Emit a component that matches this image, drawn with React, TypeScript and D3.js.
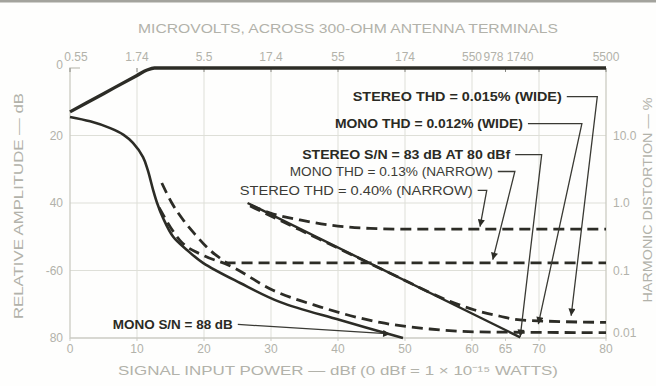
import { useEffect, useRef } from "react"
import * as d3 from "d3"

// Axe du bas : puissance d'entrée (dBf)
const dbfTicks = [0, 10, 20, 30, 40, 50, 60, 65, 70, 80]
// Axe du haut : microvolts aux bornes 300 ohms, aux mêmes points dBf
const uvTicks = [0, 10, 20, 30, 40, 50, 60, 65, 70, 80]
const uvLabels = ["0.55", "1.74", "5.5", "17.4", "55", "174", "550", "978", "1740", "5500"]
// Axe gauche : amplitude relative (dB)
const ampTicks = [0, 20, 40, 60, 80]
const ampLabels = ["0", "20", "40", "-60", "80"]
// Axe droit : distorsion harmonique (%), échelle log
const thdTicks = [10, 1, 0.1, 0.01]
const thdLabels = ["10.0", "1.0", "0.1", "0.01"]

type Pt = [number, number]

// [dBf, dB]
const signal: Pt[] = [[0, 13], [5, 7.6], [10, 2.2], [11.5, 0.6], [12.6, 0], [80, 0]]
const monoNoise: Pt[] = [
  [0, 14.5], [3, 15.8], [6, 17.8], [8, 19.8], [9.4, 22.2], [10.9, 26.4], [11.6, 30.2],
  [12.4, 36.1], [13, 40], [13.9, 44.5], [15.4, 50], [17.5, 54], [19.9, 57.8],
  [25.4, 63.7], [31.3, 69.3], [40.3, 74.7], [49.7, 80],
]
const stereoNoise: Pt[] = [[26.5, 40], [67.2, 79.8]]

// [dBf, THD %]
const monoThdNarrow: Pt[] = [
  [13.7, 1.98], [15.2, 1.0], [16.9, 0.56], [18.7, 0.34], [20.4, 0.223], [22.1, 0.16],
  [23.6, 0.13], [80, 0.13],
]
const stereoThdNarrow: Pt[] = [
  [26.9, 0.93], [29.9, 0.71], [34.3, 0.56], [38.8, 0.47], [44.8, 0.42], [50, 0.41], [80, 0.41],
]
const monoThdWide: Pt[] = [
  [13.3, 0.85], [16.4, 0.28], [20.1, 0.164], [23.6, 0.121], [30.3, 0.051], [37.3, 0.029],
  [46.3, 0.017], [53.7, 0.0136], [61.2, 0.0123], [80, 0.012],
]
const stereoThdWide: Pt[] = [
  [26.9, 0.9], [34.3, 0.4], [41.8, 0.176], [49.3, 0.077], [56.7, 0.035], [60.4, 0.026],
  [64.2, 0.021], [67.2, 0.0185], [80, 0.017],
]

// Annotations : fin du texte / ligne de base (dBf, dB), coude (dBf), pointe (dBf, dB)
const notes = [
  { text: "STEREO THD = 0.015% (WIDE)", end: 73.4, base: 9.8, len: 209, bold: true, elbow: 78.7, tip: [74.8, 73.4] },
  { text: "MONO THD = 0.012% (WIDE)", end: 67.6, base: 17.8, len: 188, bold: true, elbow: 76.4, tip: [69.9, 75.9] },
  { text: "STEREO S/N = 83 dB AT 80 dBf", end: 65.7, base: 27, len: 208, bold: true, elbow: 70.4, tip: [67.2, 79.6] },
  { text: "MONO THD = 0.13% (NARROW)", end: 63.1, base: 32, len: 203, bold: false, elbow: 66.4, tip: [63.1, 56.8] },
  { text: "STEREO THD = 0.40% (NARROW)", end: 60.1, base: 37.6, len: 233, bold: false, elbow: 62.2, tip: [61.2, 47] },
  { text: "MONO S/N = 88 dB", end: 24.3, base: 77.3, len: 120, bold: true, elbow: null, tip: [47.8, 78.8] },
]

const INK = "#2c2c26"
const AXIS = "#b2b2aa"
const GRID = "#dedfd8"
const FONT = "'Liberation Sans', Arial, sans-serif"

export default function App() {
  const svgRef = useRef<SVGSVGElement>(null)

  useEffect(() => {
    if (!svgRef.current) return
    const svg = d3.select(svgRef.current)
    svg.selectAll("*").remove()

    const xScale = d3.scaleLinear().domain([0, 80]).range([70, 606])
    const yScale = d3.scaleLinear().domain([0, 80]).range([68, 338])
    const thdScale = d3.scaleLog().domain([0.01, 100]).range([338, 68])

    svg.append("rect").attr("width", 656).attr("height", 386).attr("fill", "#fefefd")
    // bord du scan en haut
    svg.append("rect").attr("x", 0).attr("y", 0).attr("width", 656).attr("height", 2.5).attr("fill", "#a3a39d")

    const defs = svg.append("defs")
    defs.append("marker")
      .attr("id", "arrow")
      .attr("viewBox", "0 0 10 10")
      .attr("refX", 10)
      .attr("refY", 5)
      .attr("markerWidth", 6.5)
      .attr("markerHeight", 5.5)
      .attr("markerUnits", "strokeWidth")
      .attr("orient", "auto")
      .append("path")
      .attr("d", "M0,0 L10,5 L0,10 Z")
      .attr("fill", INK)

    // Grille
    const grid = svg.append("g").attr("stroke", GRID).attr("stroke-width", 1)
    ;[10, 20, 30, 40, 50, 60, 70].forEach((v) => {
      grid.append("line").attr("x1", xScale(v)).attr("x2", xScale(v)).attr("y1", yScale(0)).attr("y2", yScale(80))
    })
    ;[20, 40, 60].forEach((v) => {
      grid.append("line").attr("x1", xScale(0)).attr("x2", xScale(80)).attr("y1", yScale(v)).attr("y2", yScale(v))
    })

    // Cadre
    const frame = svg.append("g").attr("stroke", "#cbcbc3").attr("stroke-width", 1.3).attr("fill", "none")
    frame.append("path").attr("d", `M${xScale(0) + 10},${yScale(0)} H${xScale(0)} V${yScale(80)} H${xScale(80)} V${yScale(0)}`)

    // Axe du bas
    const bottom = svg.append("g").attr("font-family", FONT).attr("font-size", 12).attr("fill", AXIS).attr("text-anchor", "middle")
    dbfTicks.forEach((v) => {
      bottom.append("line").attr("x1", xScale(v)).attr("x2", xScale(v)).attr("y1", yScale(80)).attr("y2", yScale(80) + 3).attr("stroke", "#cbcbc3")
      bottom.append("text").attr("x", xScale(v)).attr("y", 353).text(String(v))
    })

    // Axe du haut
    const nudge: Record<number, number> = { 0: 6, 65: -12, 70: -19 }
    const top = svg.append("g").attr("font-family", FONT).attr("font-size", 12).attr("fill", AXIS).attr("text-anchor", "middle")
    uvTicks.forEach((v, i) => {
      top.append("text").attr("x", xScale(v) + (nudge[v] || 0)).attr("y", 61).text(uvLabels[i])
      top.append("line").attr("x1", xScale(v)).attr("x2", xScale(v)).attr("y1", yScale(0)).attr("y2", yScale(0) + 4).attr("stroke", "#8a8a84").attr("stroke-width", 1)
    })

    // Axe gauche
    const left = svg.append("g").attr("font-family", FONT).attr("font-size", 12).attr("fill", AXIS).attr("text-anchor", "end")
    ampTicks.forEach((v, i) => {
      left.append("text").attr("x", 63).attr("y", yScale(v) + (v === 0 ? 1 : 4)).text(ampLabels[i])
    })

    // Axe droit
    const right = svg.append("g").attr("font-family", FONT).attr("font-size", 12).attr("fill", AXIS).attr("text-anchor", "start")
    thdTicks.forEach((v, i) => {
      right.append("text").attr("x", 613).attr("y", thdScale(v) + (v === 0.01 ? -1 : 4)).text(thdLabels[i])
    })

    // Titres
    const titles = svg.append("g").attr("font-family", FONT).attr("font-size", 13).attr("fill", AXIS).attr("text-anchor", "middle")
    titles.append("text").attr("x", 348).attr("y", 33).attr("textLength", 420).attr("lengthAdjust", "spacingAndGlyphs")
      .text("MICROVOLTS, ACROSS 300-OHM ANTENNA TERMINALS")
    titles.append("text").attr("x", 338).attr("y", 375).attr("textLength", 440).attr("lengthAdjust", "spacingAndGlyphs")
      .text("SIGNAL INPUT POWER — dBf (0 dBf = 1 × 10⁻¹⁵ WATTS)")
    titles.append("text").attr("transform", "translate(23,206) rotate(-90)").attr("textLength", 226).attr("lengthAdjust", "spacingAndGlyphs")
      .text("RELATIVE AMPLITUDE — dB")
    titles.append("text").attr("transform", "translate(652,200) rotate(-90)").attr("textLength", 205).attr("lengthAdjust", "spacingAndGlyphs")
      .text("HARMONIC DISTORTION — %")

    // Courbes
    const dbLine = d3.line<Pt>().x((d) => xScale(d[0])).y((d) => yScale(d[1]))
    const thdLine = d3.line<Pt>().x((d) => xScale(d[0])).y((d) => thdScale(d[1])).curve(d3.curveMonotoneX)
    const curves = svg.append("g").attr("fill", "none").attr("stroke", INK).attr("stroke-linecap", "butt")

    curves.append("path").datum(signal).attr("d", dbLine.curve(d3.curveMonotoneX)).attr("stroke-width", 3.4)
    curves.append("path").datum(monoNoise).attr("d", dbLine.curve(d3.curveCatmullRom.alpha(0.5))).attr("stroke-width", 2.6)
    curves.append("path").datum(stereoNoise).attr("d", dbLine.curve(d3.curveLinear)).attr("stroke-width", 2.4)
    ;[monoThdNarrow, stereoThdNarrow, monoThdWide, stereoThdWide].forEach((s) => {
      curves.append("path").datum(s).attr("d", thdLine).attr("stroke-width", 2.8).attr("stroke-dasharray", "11,6")
    })

    // Annotations
    const ann = svg.append("g").attr("font-family", FONT).attr("font-size", 12.5)
    notes.forEach((n) => {
      const tx = xScale(n.end)
      const ty = yScale(n.base)
      ann.append("text")
        .attr("x", tx)
        .attr("y", ty)
        .attr("text-anchor", "end")
        .attr("font-weight", n.bold ? "bold" : "normal")
        .attr("fill", n.bold ? "#2a2a24" : "#3c3c36")
        .attr("textLength", n.len)
        .attr("lengthAdjust", "spacingAndGlyphs")
        .text(n.text)
      const ly = ty - 4.5
      const tip = [xScale(n.tip[0]), yScale(n.tip[1])]
      const d = n.elbow !== null
        ? `M${tx + 5},${ly} H${xScale(n.elbow)} L${tip[0]},${tip[1]}`
        : `M${tx + 5},${ly} L${tip[0]},${tip[1]}`
      ann.append("path")
        .attr("d", d)
        .attr("fill", "none")
        .attr("stroke", "#3a3a34")
        .attr("stroke-width", 1.3)
        .attr("marker-end", "url(#arrow)")
    })
  }, [])

  return (
    <div style={{ position: "absolute", left: 0, top: 0, width: 656, height: 386 }}>
      <svg ref={svgRef} width={656} height={386} style={{ display: "block" }} />
    </div>
  )
}
